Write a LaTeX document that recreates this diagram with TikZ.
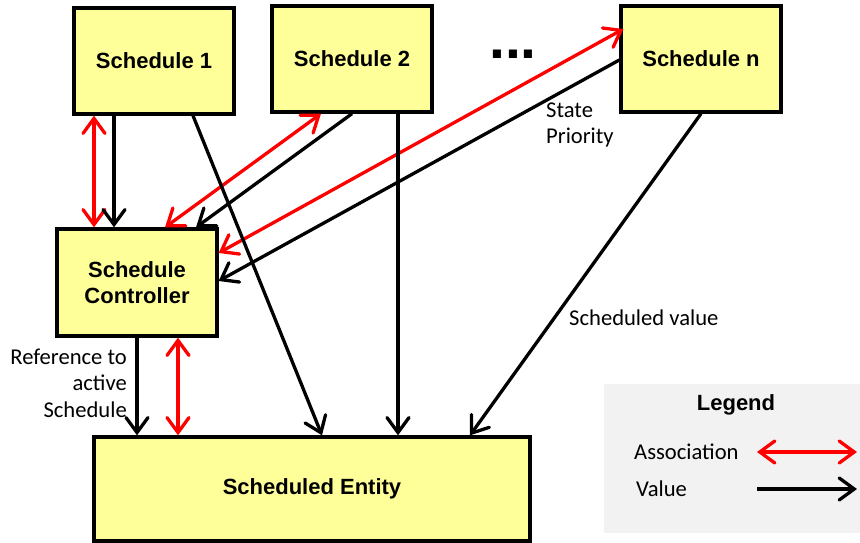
\documentclass[tikz,border=0pt]{standalone}
\usepackage{fontspec}
\setmainfont{Liberation Sans}
\newfontfamily\lblfont{Carlito}
\usetikzlibrary{arrows.meta}
\definecolor{boxyellow}{HTML}{FFFF99}
\definecolor{legendgray}{HTML}{F2F2F2}
\definecolor{assocred}{HTML}{FF0000}
\tikzset{
  block/.style={draw=black, line width=3.3pt, fill=boxyellow, inner sep=0pt,
    font=\fontsize{22}{26}\selectfont\bfseries, align=center},
  valuearrow/.style={draw=black, line width=3.3pt,
    -{Straight Barb[length=15pt,width=22pt,line cap=round]}},
  assocarrow/.style={draw=assocred, line width=3.3pt,
    {Straight Barb[length=15pt,width=22pt,line cap=round]}-{Straight Barb[length=15pt,width=22pt,line cap=round]}},
  lbl/.style={font=\lblfont\fontsize{22.6}{26.5}\selectfont, inner sep=0pt}
}
\begin{document}
\begin{tikzpicture}[x=1pt, y=-1pt]
\useasboundingbox (0,0) rectangle (860,542);

% legend panel
\node[fill=legendgray, minimum width=256pt, minimum height=149pt, inner sep=0pt]
  (legend) at (732,458.5) {};
\node[font=\fontsize{22}{26}\selectfont\bfseries] (legendtitle) at (736,405) {Legend};
\node[lbl, anchor=west] (assoctext) at (634,452) {Association};
\node[lbl, anchor=west] (valuetext) at (636,489) {Value};
\coordinate (assocL) at (757,452);
\coordinate (assocR) at (857,452);
\coordinate (valueL) at (757,489);
\coordinate (valueR) at (857,489);
\draw[assocarrow] (assocL) -- (assocR);
\draw[valuearrow] (valueL) -- (valueR);

% blocks
\node[block, minimum width=160pt, minimum height=106pt] (s1) at (154,61) {Schedule 1};
\node[block, minimum width=160pt, minimum height=106pt] (s2) at (352,59) {Schedule 2};
\node[block, minimum width=160pt, minimum height=106pt] (sn) at (701,59) {Schedule n};
\node[block, minimum width=160pt, minimum height=107pt] (ctl) at (137,282.5) {Schedule\\Controller};
\node[block, minimum width=436pt, minimum height=104pt] (ent) at (312,489) {Scheduled Entity};

\node[font=\fontsize{57}{57}\selectfont\bfseries, anchor=base, inner sep=0pt] (dots) at (513,58) {...};

% schedule 1 <-> controller
\draw[assocarrow] ([xshift=-60pt]s1.south) -- ([xshift=-43pt]ctl.north);
\draw[valuearrow] ([xshift=-40pt]s1.south) -- ([xshift=-23pt]ctl.north);
% schedule 2 <-> controller
\draw[assocarrow] ([xshift=28pt]ctl.north) -- ([xshift=-31pt]s2.south);
\draw[valuearrow] (s2.south) -- ([xshift=59pt]ctl.north);
% schedule n <-> controller
\draw[assocarrow] ([yshift=29.5pt]ctl.east) -- ([xshift=4pt,yshift=30pt]sn.west);
\draw[valuearrow] ([yshift=-1pt]sn.west) -- ([yshift=1.5pt]ctl.east);
% values into the scheduled entity
\draw[valuearrow] ([xshift=39pt]s1.south) -- ([xshift=10pt]ent.north);
\draw[valuearrow] ([xshift=46pt]s2.south) -- ([xshift=86pt]ent.north);
\draw[valuearrow] (sn.south) -- ([xshift=158pt]ent.north);
\draw[valuearrow] (ctl.south) -- ([xshift=-175pt]ent.north);
\draw[assocarrow] ([xshift=41pt]ctl.south) -- ([xshift=-134pt]ent.north);

% labels
\node[lbl, anchor=west, align=left] (statelbl) at (546,125) {State\\Priority};
\node[lbl, anchor=west] (valuelbl) at (569,318) {Scheduled value};
\node[lbl, anchor=east, align=right] (reflbl) at (127,383) {Reference to\\active\\Schedule};
\end{tikzpicture}
\end{document}
